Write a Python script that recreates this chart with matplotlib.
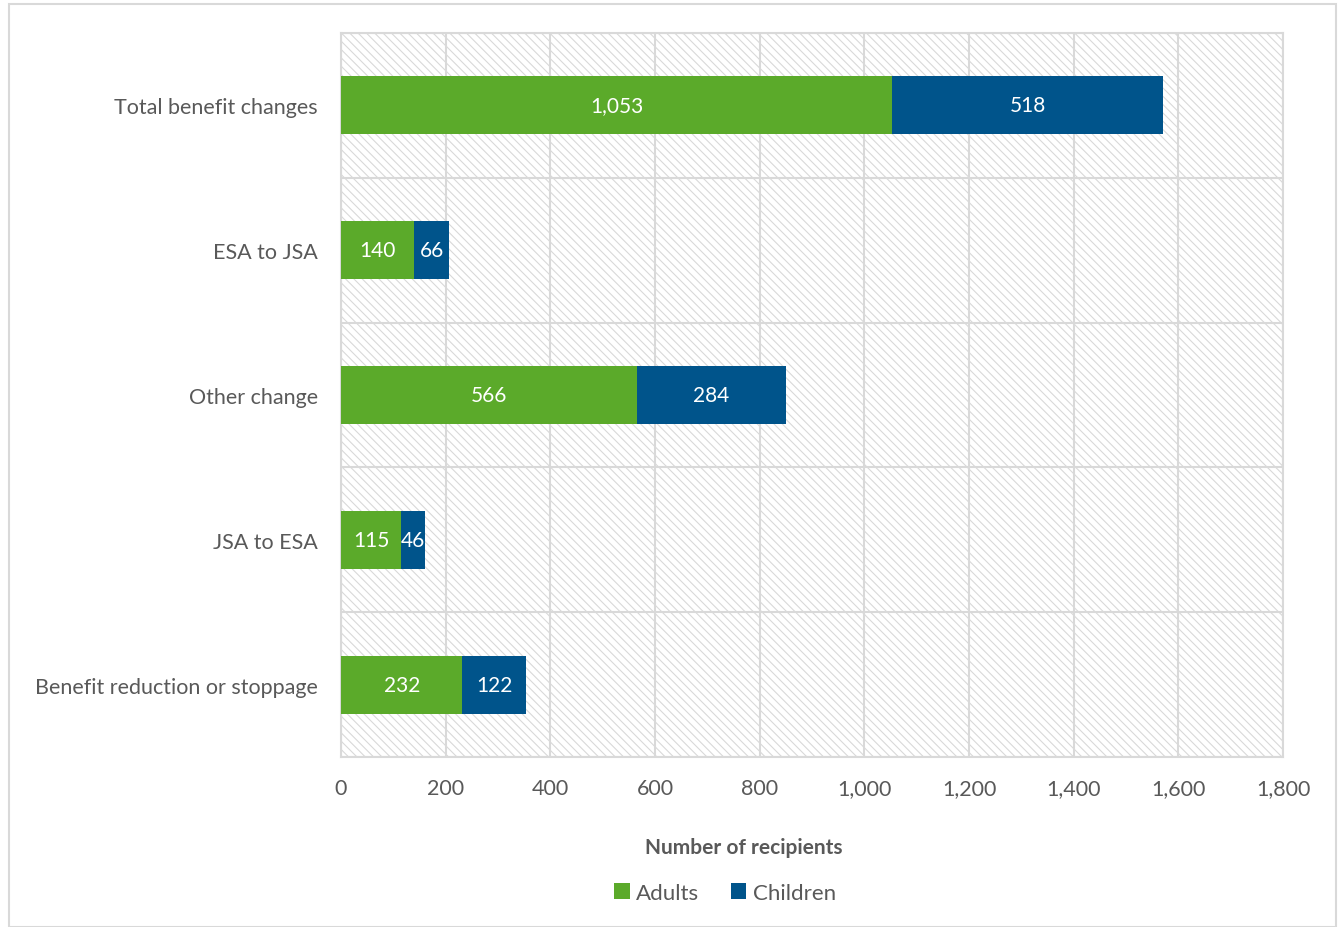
import matplotlib
matplotlib.use('Agg')
import matplotlib.pyplot as plt
from matplotlib.patches import Rectangle
import numpy as np

plt.rcParams['font.family'] = ['Lato', 'DejaVu Sans']
plt.rcParams['hatch.linewidth'] = 0.8

categories = ['Benefit reduction or stoppage', 'JSA to ESA', 'Other change',
              'ESA to JSA', 'Total benefit changes']
adults = [232, 115, 566, 140, 1053]
children = [122, 46, 284, 66, 518]
series_names = ['Adults', 'Children']
xticks = [0, 200, 400, 600, 800, 1000, 1200, 1400, 1600, 1800]

green = '#5BAA2A'
blue = '#00548B'
grid = '#d9d9d9'
txt = '#595959'

fig = plt.figure(figsize=(13.41, 9.28), dpi=100)
ax = fig.add_axes([341/1341, 1-758/928, (1283-341)/1341, (758-34)/928])

# outer chart border
fig.patches.append(Rectangle((9/1341, 0), (1336-9)/1341, 1-5/928, transform=fig.transFigure,
                             fill=False, edgecolor=grid, linewidth=1.5))

# hatched plot area
ax.add_patch(Rectangle((0, 0), 1, 1, transform=ax.transAxes, facecolor='white',
                       edgecolor=grid, hatch='\\\\\\\\', linewidth=0, zorder=0))

y = np.arange(len(categories))
h = 0.4
b1 = ax.barh(y, adults, height=h, color=green, zorder=3, label=series_names[0])
b2 = ax.barh(y, children, left=adults, height=h, color=blue, zorder=3, label=series_names[1])

for bars in (b1, b2):
    for r in bars:
        w = r.get_width()
        ax.text(r.get_x() + w/2, r.get_y() + r.get_height()/2, f'{w:,.0f}',
                ha='center', va='center', color='white', fontsize=15, zorder=4)

ax.set_xlim(0, 1800)
ax.set_ylim(-0.5, len(categories) - 0.5)
ax.set_xticks(xticks)
ax.set_xticklabels([f'{v:,}' for v in xticks])
ax.set_yticks(y)
ax.set_yticklabels(categories)
ax.set_yticks(np.arange(-0.5, len(categories), 1), minor=True)
ax.tick_params(axis='both', which='both', length=0, labelsize=15.5, colors=txt)
ax.tick_params(axis='y', pad=16.5)
ax.tick_params(axis='x', pad=15)
ax.grid(axis='x', which='major', color=grid, linewidth=1.5, zorder=1)
ax.grid(axis='y', which='minor', color=grid, linewidth=1.5, zorder=1)
ax.set_axisbelow(True)
for s in ax.spines.values():
    s.set_color(grid)
    s.set_linewidth(1.5)

fig.text(744/1341, 1-848/928, 'Number of recipients', ha='center', va='center',
         fontsize=15, fontweight='bold', color=txt)

fig.legend(loc='center', bbox_to_anchor=(725/1341, 1-894/928), ncol=2, frameon=False,
           fontsize=16, labelcolor=txt, handlelength=0.7, handleheight=0.7,
           handletextpad=0.3, columnspacing=1.4)

fig.savefig('out.png', dpi=100)
